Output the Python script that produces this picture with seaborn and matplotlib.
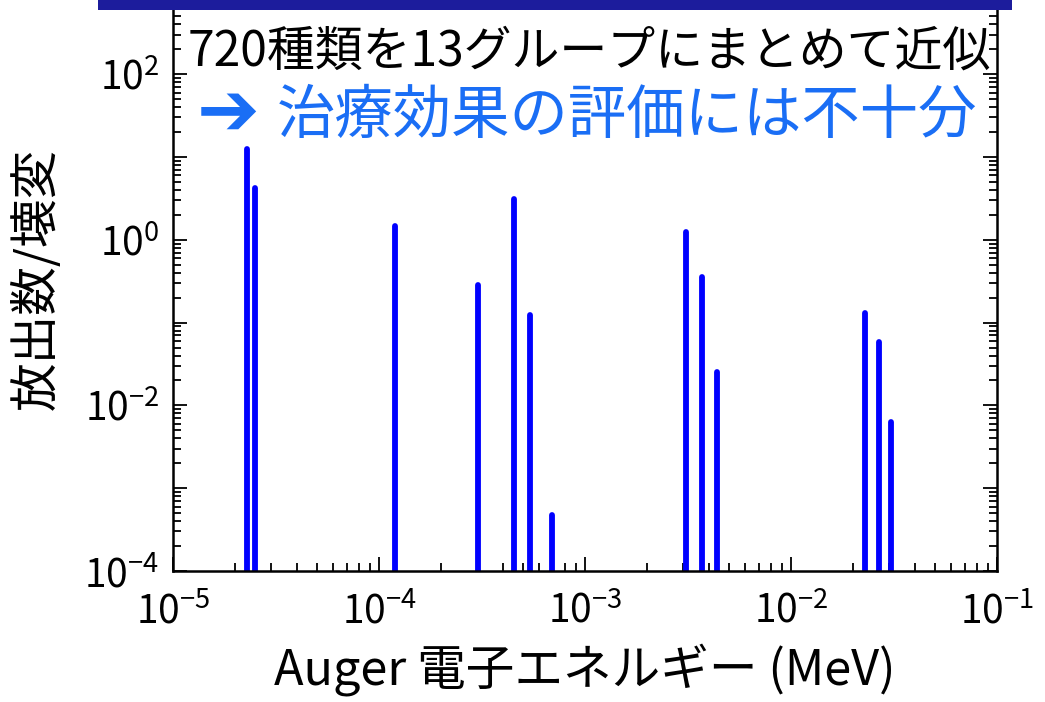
import numpy as np
import pandas as pd
import matplotlib
matplotlib.use("Agg")
import matplotlib.pyplot as plt
import matplotlib.ticker as mticker
from matplotlib.patches import Rectangle
import seaborn as sns

# Auger electron groups (13 groups): energy in MeV, yield per decay
energy_mev = [2.29e-5, 2.50e-5, 1.20e-4, 3.01e-4, 4.50e-4, 5.43e-4, 6.93e-4,
              3.10e-3, 3.70e-3, 4.35e-3, 2.29e-2, 2.67e-2, 3.05e-2]
yield_per_decay = [12.4, 4.19, 1.47, 0.284, 3.11, 0.1225, 4.74e-4,
                   1.25, 0.352, 0.0251, 0.132, 0.0583, 0.00625]

x_decades = [1e-5, 1e-4, 1e-3, 1e-2, 1e-1]
y_label_decades = [1e-4, 1e-2, 1e0, 1e2]
y_floor = 1e-4
y_top = 10 ** 2.775

title_black = "720種類を13グループにまとめて近似"
arrow = "➔"
title_blue = "治療効果の評価には不十分"
xlabel = "Auger 電子エネルギー (MeV)"
ylabel = "放出数/壊変"

sns.set_theme(style="ticks")
plt.rcParams['font.family'] = ['Noto Sans CJK JP', 'DejaVu Sans']
plt.rcParams['mathtext.fontset'] = 'custom'
plt.rcParams['mathtext.rm'] = 'Noto Sans CJK JP'

# long-form table: each line is drawn from the floor up to its yield
rows = []
for i, (e, y) in enumerate(zip(energy_mev, yield_per_decay)):
    rows.append({"line": i, "E": e, "Y": y_floor})
    rows.append({"line": i, "E": e, "Y": y})
df = pd.DataFrame(rows)

fig = plt.figure(figsize=(10.45, 7.02), dpi=100)
ax = fig.add_axes([173 / 1045, 131 / 702, 824 / 1045, 561 / 702])

sns.lineplot(data=df, x="E", y="Y", units="line", estimator=None, sort=False,
             color="#0000ff", linewidth=4.2, solid_capstyle="round", ax=ax,
             legend=False)

ax.set_xscale("log")
ax.set_yscale("log")
ax.set_xlim(x_decades[0], x_decades[-1])
ax.set_ylim(y_floor, y_top)


def sup_fmt(v, pos):
    p = int(round(np.log10(v)))
    return r"$\mathregular{10^{%d}}$" % p


ax.xaxis.set_major_locator(mticker.FixedLocator(x_decades))
ax.xaxis.set_major_formatter(mticker.FuncFormatter(sup_fmt))
ax.xaxis.set_minor_locator(mticker.LogLocator(base=10, subs=np.arange(2, 10), numticks=20))
ax.xaxis.set_minor_formatter(mticker.NullFormatter())

ax.yaxis.set_major_locator(mticker.LogLocator(base=10, numticks=20))
ax.yaxis.set_major_formatter(mticker.FuncFormatter(
    lambda v, pos: sup_fmt(v, pos) if any(np.isclose(v, d) for d in y_label_decades) else ""))
ax.yaxis.set_minor_locator(mticker.LogLocator(base=10, subs=np.arange(2, 10), numticks=20))
ax.yaxis.set_minor_formatter(mticker.NullFormatter())

ax.tick_params(axis="both", which="both", direction="in", color="black",
               width=1.3, labelsize=28, labelcolor="black")
ax.tick_params(axis="both", which="major", length=10)
ax.tick_params(axis="both", which="minor", length=6)
ax.tick_params(axis="y", which="both", left=True, right=True, pad=10)
ax.tick_params(axis="x", which="both", bottom=True, top=False, pad=15)

for side in ["left", "right", "bottom"]:
    ax.spines[side].set_linewidth(1.8)
    ax.spines[side].set_color("black")
ax.spines["top"].set_visible(False)

ax.set_xlabel(xlabel, fontsize=35, color="black", labelpad=8)
ax.set_ylabel(ylabel, fontsize=35, color="black")
ax.yaxis.set_label_coords(-0.135, 0.52)

ax.text(0.505, 0.925, title_black, transform=ax.transAxes, ha="center", va="center",
        fontsize=34.5, color="black")
ax.text(0.029, 0.815, arrow, transform=ax.transAxes, ha="left", va="center",
        fontsize=54, fontweight="bold", color="#1a6ef5", family="DejaVu Sans")
ax.text(0.976, 0.81, title_blue, transform=ax.transAxes, ha="right", va="center",
        fontsize=42, color="#1a6ef5")

# dark band along the top edge
fig.patches.append(Rectangle((98 / 1045, 692 / 702), 914 / 1045, 10 / 702,
                             transform=fig.transFigure, facecolor="#1c1c9c",
                             edgecolor="none", zorder=10))

fig.savefig("out.png", dpi=100)
